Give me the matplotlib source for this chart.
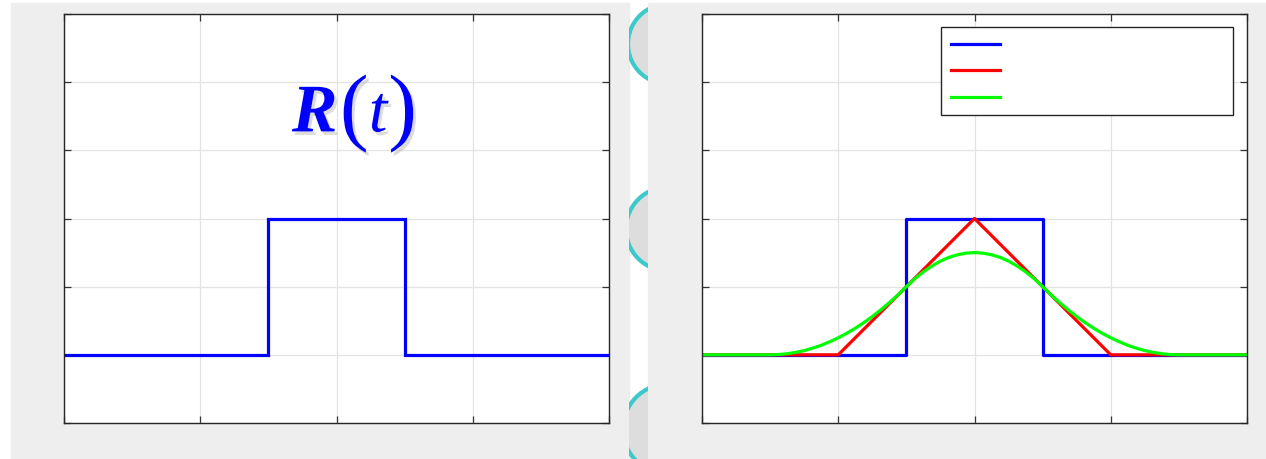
import numpy as np
import matplotlib
matplotlib.use("Agg")
import matplotlib.pyplot as plt
import matplotlib.patches as mpatches
import matplotlib.patheffects as pe

# ---- data ----
rect_t = [-2.0, -0.5, -0.5, 0.5, 0.5, 2.0]
rect_v = [0.0, 0.0, 1.0, 1.0, 0.0, 0.0]

tri_t = [-2.0, -1.0, 0.0, 1.0, 2.0]
tri_v = [0.0, 0.0, 1.0, 0.0, 0.0]

# bell curve, right half (symmetric about t = 0)
bell_half_t = [0.0, 0.0625, 0.125, 0.1875, 0.25, 0.3125, 0.375, 0.4375, 0.5,
               0.5625, 0.625, 0.6875, 0.75, 0.8125, 0.875, 0.9375, 1.0,
               1.0625, 1.125, 1.1875, 1.25, 1.3125, 1.375, 1.4375, 1.5, 2.0]
bell_half_v = [0.75, 0.746, 0.734, 0.715, 0.6875, 0.652, 0.609, 0.559, 0.5,
               0.439, 0.383, 0.330, 0.281, 0.236, 0.195, 0.158, 0.125,
               0.096, 0.070, 0.049, 0.031, 0.018, 0.008, 0.002, 0.0, 0.0]
bell_t = [-t for t in bell_half_t[::-1]] + bell_half_t[1:]
bell_v = bell_half_v[::-1] + bell_half_v[1:]

x_ticks = [-2, -1, 0, 1, 2]
y_ticks = [-0.5, 0, 0.5, 1, 1.5, 2, 2.5]

W, H = 1266, 460
fig = plt.figure(figsize=(W / 100, H / 100), dpi=100)
fig.patch.set_facecolor("white")

panel = "#eeeeee"
fig.patches.append(mpatches.Rectangle((11 / W, 0), 618 / W, 456 / H,
                                      transform=fig.transFigure, color=panel, zorder=-5))
fig.patches.append(mpatches.Rectangle((648 / W, 0), 618 / W, 456 / H,
                                      transform=fig.transFigure, color=panel, zorder=-5))

# decorative blobs in the gap between the panels
strip = mpatches.Rectangle((629 / W, 0), 19 / W, 1, transform=fig.transFigure,
                           facecolor="none", edgecolor="none", zorder=-5)
fig.patches.append(strip)
for cx, cy, r in [(668, 45, 40), (668, 230, 42), (668, 430, 45)]:
    c = mpatches.Ellipse((cx / W, 1 - cy / H), 2 * r / W, 2 * r / H,
                         transform=fig.transFigure, facecolor="#dddddd",
                         edgecolor="#3cc9c9", lw=3, zorder=-4)
    c.set_clip_path(strip)
    fig.patches.append(c)


def style_axes(ax):
    ax.set_xlim(-2, 2)
    ax.set_ylim(-0.5, 2.5)
    ax.set_xticks(x_ticks)
    ax.set_yticks(y_ticks)
    ax.set_xticklabels([])
    ax.set_yticklabels([])
    ax.set_facecolor("white")
    ax.grid(True, color="#e3e3e3", lw=0.9)
    ax.set_axisbelow(True)
    ax.tick_params(direction="in", length=5, width=0.9, color="#333333",
                   top=True, right=True, bottom=True, left=True)
    for s in ax.spines.values():
        s.set_color("#262626")
        s.set_linewidth(1.0)


ax1 = fig.add_axes([64 / W, 36 / H, 545 / W, 409 / H])
ax2 = fig.add_axes([702 / W, 36 / H, 545 / W, 409 / H])
style_axes(ax1)
style_axes(ax2)

ax1.plot(rect_t, rect_v, color="#0000ff", lw=2.3, solid_joinstyle="miter")

shadow = [pe.withSimplePatchShadow(offset=(2, -2.5), shadow_rgbFace="#b0b0b0", alpha=0.45)]
blue = "#0000ff"
ax1.text(-0.16, 1.76, "R", color=blue, fontsize=49, fontweight="bold",
         fontstyle="italic", family="Liberation Serif", ha="center", va="center",
         path_effects=shadow)
ax1.text(0.13, 1.77, "(", color=blue, fontsize=62, family="Liberation Serif",
         ha="center", va="center", path_effects=shadow)
ax1.text(0.305, 1.76, "t", color=blue, fontsize=48, fontstyle="italic",
         family="Liberation Serif", ha="center", va="center", path_effects=shadow)
ax1.text(0.485, 1.77, ")", color=blue, fontsize=62, family="Liberation Serif",
         ha="center", va="center", path_effects=shadow)

l1, = ax2.plot(rect_t, rect_v, color="#0000ff", lw=2.3)
l2, = ax2.plot(tri_t, tri_v, color="#ff0000", lw=2.3)
l3, = ax2.plot(bell_t, bell_v, color="#00ff00", lw=2.3)

top = 396 / 409
leg = ax2.legend([l1, l2, l3], [" ", " ", " "], loc="upper left",
                 bbox_to_anchor=(239 / 545, top - 0.01, 292 / 545, 0.01),
                 mode="expand", fancybox=False, framealpha=1,
                 edgecolor="#262626", handlelength=3.5, handletextpad=0.5,
                 borderpad=0.75, labelspacing=0.92, fontsize=10, borderaxespad=0)
leg.get_frame().set_linewidth(1.0)

fig.savefig("out.png", dpi=100)
